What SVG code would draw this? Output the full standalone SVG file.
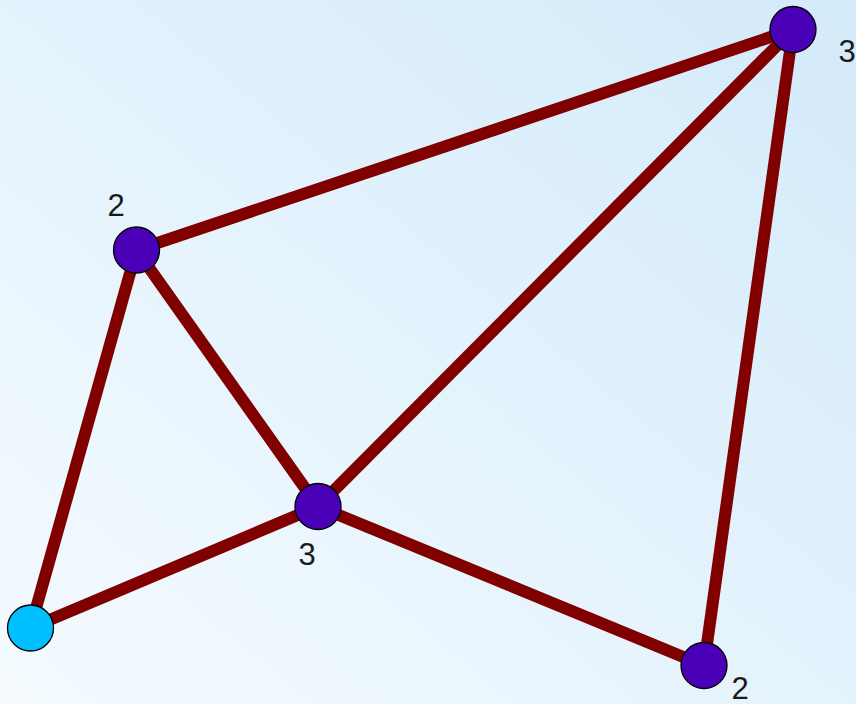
<svg xmlns="http://www.w3.org/2000/svg" width="856" height="704" viewBox="0 0 856 704">
<defs>
<linearGradient id="bg" x1="0" y1="1" x2="1" y2="0">
<stop offset="0" stop-color="#f5fbff"/>
<stop offset="1" stop-color="#d3eafa"/>
</linearGradient>
<style>
.e{stroke:#800000;stroke-width:12;stroke-linecap:butt;fill:none}
.n{stroke:#000;stroke-width:1.3}
.p{fill:#4a00b6}
.c{fill:#00bfff}
.t{font-family:"Liberation Sans",Arial,sans-serif;font-size:31px;fill:#1a1a1a;text-anchor:middle}
</style>
</defs>
<rect width="856" height="704" fill="url(#bg)"/>
<g id="edges">
<line class="e" x1="136.5" y1="250" x2="793" y2="29.5"/>
<line class="e" x1="136.5" y1="250" x2="318" y2="506.5"/>
<line class="e" x1="136.5" y1="250" x2="30.5" y2="628"/>
<line class="e" x1="793" y1="29.5" x2="318" y2="506.5"/>
<line class="e" x1="793" y1="29.5" x2="704" y2="665.5"/>
<line class="e" x1="318" y1="506.5" x2="30.5" y2="628"/>
<line class="e" x1="318" y1="506.5" x2="704" y2="665.5"/>
</g>
<g id="nA"><circle class="n p" cx="136.5" cy="250" r="23"/><text class="t" x="116" y="216">2</text></g>
<g id="nB"><circle class="n p" cx="793" cy="29.5" r="23"/><text class="t" x="847" y="62">3</text></g>
<g id="nC"><circle class="n p" cx="318" cy="506.5" r="23"/><text class="t" x="307" y="565">3</text></g>
<g id="nD"><circle class="n c" cx="30.5" cy="628" r="23"/></g>
<g id="nE"><circle class="n p" cx="704" cy="665.5" r="23"/><text class="t" x="740" y="699">2</text></g>
</svg>
